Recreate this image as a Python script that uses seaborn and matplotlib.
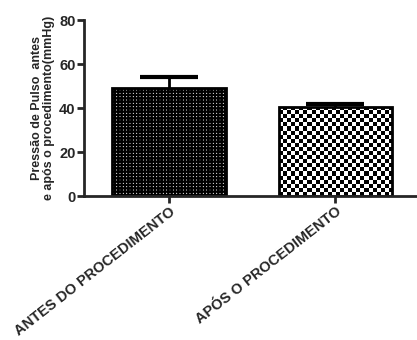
import numpy as np
import pandas as pd
import matplotlib
matplotlib.use("Agg")
import matplotlib.pyplot as plt
import seaborn as sns

# dados
grupos = ["ANTES DO PROCEDIMENTO", "APÓS O PROCEDIMENTO"]
medias = [49.0, 40.5]
erros = [5.0, 1.3]

sns.set_style("ticks")
plt.rcParams["font.family"] = ["Liberation Sans", "DejaVu Sans"]
plt.rcParams["font.weight"] = "bold"
plt.rcParams["hatch.linewidth"] = 1.6

df = pd.DataFrame({"grupo": grupos, "media": medias})

fig = plt.figure(figsize=(4.17, 3.40), dpi=100)
ax = fig.add_axes([84 / 417, 144 / 340, 333 / 417, 176 / 340])

# barras de erro (atrás das barras, só a parte de cima aparece)
ax.errorbar(range(len(grupos)), medias, yerr=erros, fmt="none", ecolor="black",
            elinewidth=2, capsize=21, capthick=3, zorder=1)

sns.barplot(data=df, x="grupo", y="media", ax=ax, color="white", width=0.68,
            edgecolor="black", linewidth=2, errorbar=None, zorder=2)

ax.set_ylim(0, 80)
ax.set_xlim(-0.51, 1.49)

# padrões: pontilhado fino na primeira barra, xadrez na segunda
p1, p2 = ax.patches[0], ax.patches[1]
p1.set_hatch("+++++")
p1.set_facecolor("white")

x0, y0 = p2.get_x(), p2.get_y()
x1, y1 = x0 + p2.get_width(), y0 + p2.get_height()
(px0, py0), (px1, py1) = ax.transData.transform([(x0, y0), (x1, y1)])
cel = 4.0
nx = max(1, int(round((px1 - px0) / cel)))
ny = max(1, int(round((py1 - py0) / cel)))
xadrez = (np.add.outer(np.arange(ny), np.arange(nx)) % 2).astype(float)
img = ax.imshow(xadrez, cmap="gray", vmin=0, vmax=1, extent=(x0, x1, y0, y1),
                origin="lower", interpolation="nearest", aspect="auto", zorder=1.5)
img.set_clip_path(p2)
p2.set_facecolor("none")
p2.set_zorder(2)

ax.set_xlim(-0.51, 1.49)
ax.set_ylim(0, 80)
ax.set_yticks([0, 20, 40, 60, 80])
ax.set_xlabel("")
ax.set_ylabel("Pressão de Pulso  antes\ne após o procedimento(mmHg)",
              fontsize=9, fontweight="bold", labelpad=3, linespacing=1.05)
ax.set_xticks(range(len(grupos)))
ax.set_xticklabels(grupos, rotation=38, ha="right", rotation_mode="anchor",
                   fontsize=10.5, fontweight="bold")
for lab in ax.get_yticklabels():
    lab.set_fontweight("bold")
    lab.set_fontsize(10.5)

sns.despine(ax=ax)
for s in ["left", "bottom"]:
    ax.spines[s].set_linewidth(2)
ax.tick_params(axis="both", width=2, length=5, direction="out", pad=1)

fig.savefig("out.png", dpi=100)
